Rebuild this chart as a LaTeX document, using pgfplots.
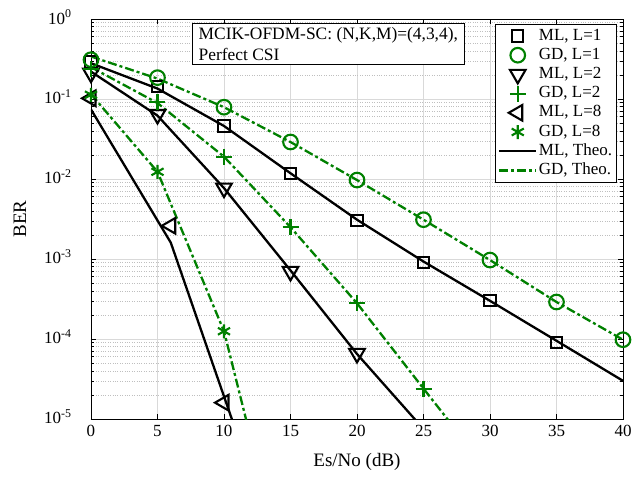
\documentclass[border=0pt]{standalone}
\usepackage{fontspec}
\setmainfont{Liberation Serif}
\usepackage{pgfplots}
\pgfplotsset{compat=1.18}
\definecolor{mgreen}{RGB}{0,128,0}
\begin{document}
\begin{tikzpicture}
\begin{axis}[
  scale only axis, width=532pt, height=400pt,
  at={(0pt,0pt)}, anchor=south west,
  ymode=log, xmin=0, xmax=40, ymin=1e-5, ymax=1,
  xtick={0,5,...,40}, xticklabels={0,5,10,15,20,25,30,35,40},
  ytick={1e-5,1e-4,1e-3,1e-2,1e-1,1},
  yticklabels={{10\textsuperscript{-5}},{10\textsuperscript{-4}},{10\textsuperscript{-3}},{10\textsuperscript{-2}},{10\textsuperscript{-1}},{10\textsuperscript{0}}},
  tick align=inside,
  major tick length=5pt, minor tick length=3pt,
  grid=both,
  major grid style={draw=black!15, line width=0.6pt},
  minor grid style={draw=black!25, dotted, line width=0.6pt},
  axis line style={line width=0.8pt},
  every tick/.style={line width=0.6pt, black},
  ticklabel style={font=\fontsize{17}{19}\selectfont},
  yticklabel style={xshift=-16pt, yshift=2pt},
  xticklabel style={yshift=-3pt},
  xlabel={Es/No (dB)}, ylabel={BER},
  label style={font=\fontsize{19}{21}\selectfont},
  xlabel style={at={(axis description cs:0.5,-0.1075)}, anchor=center},
  ylabel style={at={(axis description cs:-0.1335,0.5)}, anchor=center},
  legend image code/.code={\draw[mark repeat=2,mark phase=2,#1] plot coordinates {(0pt,0pt)(18.5pt,0pt)(37pt,0pt)};},
  legend style={at={(rel axis cs:0.9887,0.9875)}, anchor=north east,
    font=\fontsize{17}{19}\selectfont, draw=black, line width=0.8pt, fill=white,
    inner xsep=3pt, inner ysep=2pt,
    nodes={inner sep=1.5pt, text height=12.2pt, text depth=4pt},
    row sep=0pt},
  legend cell align=left,
]
% markers
\addplot[only marks, black, line width=2.1pt, mark=square, mark size=5.6pt]
  coordinates {(0,0.29)(5,0.142)(10,0.046)(15,0.0118)(20,0.003)(25,9.0e-4)(30,3.0e-4)(35,9.0e-5)};
\addlegendentry{ML, L=1}
\addplot[only marks, mgreen, line width=2.1pt, mark=o, mark size=7.3pt]
  coordinates {(0,0.31)(5,0.185)(10,0.079)(15,0.029)(20,0.0097)(25,0.0031)(30,9.7e-4)(35,2.9e-4)(40,9.8e-5)};
\addlegendentry{GD, L=1}
\addplot[only marks, black, line width=2.1pt, mark=triangle, mark size=9pt, mark options={rotate=180}]
  coordinates {(0,0.21)(5,0.064)(10,0.0077)(15,7.0e-4)(20,6.6e-5)};
\addlegendentry{ML, L=2}
\addplot[only marks, mgreen, line width=2.1pt, mark=+, mark size=8pt]
  coordinates {(0,0.24)(5,0.091)(10,0.019)(15,0.0025)(20,2.8e-4)(25,2.4e-5)};
\addlegendentry{GD, L=2}
\addplot[only marks, black, line width=2.1pt, mark=triangle, mark size=9pt, mark options={rotate=90}]
  coordinates {(0,0.102)(6,0.0026)(10,1.6e-5)};
\addlegendentry{ML, L=8}
\addplot[only marks, mgreen, line width=2.1pt, mark=asterisk, mark size=7pt]
  coordinates {(0,0.113)(5,0.0123)(10,1.25e-4)};
\addlegendentry{GD, L=8}
% theory
\addplot[black, line width=2.3pt, mark=none]
  coordinates {(0,0.28)(5,0.135)(10,0.046)(15,0.0118)(20,0.0031)(25,9.3e-4)(30,3.0e-4)(35,9.5e-5)(40,3.0e-5)};
\addlegendentry{ML, Theo.}
\addplot[mgreen, line width=2.3pt, mark=none, dash pattern=on 9pt off 3pt on 3pt off 3pt]
  coordinates {(0,0.34)(5,0.18)(10,0.079)(15,0.029)(20,0.0097)(25,0.0031)(30,9.7e-4)(35,2.9e-4)(40,9.8e-5)};
\addlegendentry{GD, Theo.}
\addplot[black, line width=2.3pt, mark=none, forget plot]
  coordinates {(0,0.22)(5,0.062)(10,0.0077)(15,7.2e-4)(20,6.5e-5)(25,7.5e-6)};
\addplot[mgreen, line width=2.3pt, mark=none, dash pattern=on 9pt off 3pt on 3pt off 3pt, forget plot]
  coordinates {(0,0.25)(5,0.089)(10,0.019)(15,0.0025)(20,2.8e-4)(25,2.4e-5)(30,2.1e-6)};
\addplot[black, line width=2.3pt, mark=none, forget plot]
  coordinates {(0,0.074)(6,0.0016)(12,2.1e-6)};
\addplot[mgreen, line width=2.3pt, mark=none, dash pattern=on 9pt off 3pt on 3pt off 3pt, forget plot]
  coordinates {(0,0.115)(5,0.0123)(10,1.25e-4)(15,6e-8)};
\node[draw, fill=white, align=left, anchor=north west, line width=0.8pt,
  font=\fontsize{17.4}{21}\selectfont, inner xsep=6pt, inner ysep=4pt]
  at (rel axis cs:0.1905,0.99) {MCIK-OFDM-SC: (N,K,M)=(4,3,4),\\Perfect CSI};
\end{axis}
\pgfresetboundingbox
\useasboundingbox (-91pt,-60pt) rectangle (551pt,419pt);
\end{tikzpicture}
\end{document}
